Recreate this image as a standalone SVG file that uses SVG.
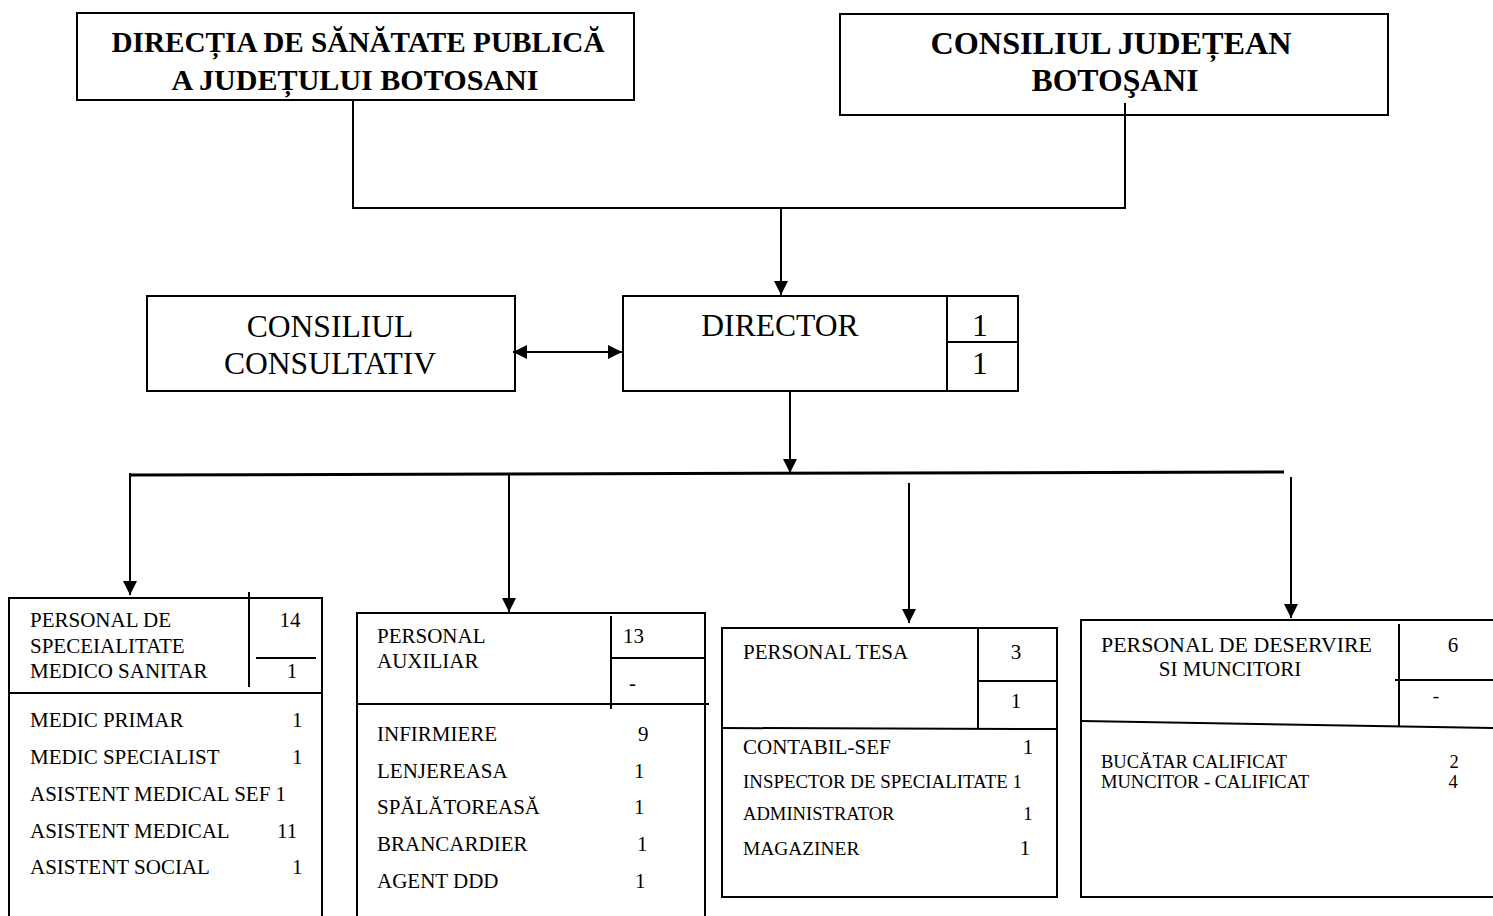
<svg xmlns="http://www.w3.org/2000/svg" width="1493" height="916" viewBox="0 0 1493 916" xml:space="preserve">
<style>
.box{fill:#fff;stroke:#000;stroke-width:2}
.ln{stroke:#000;stroke-width:2;fill:none}
.t{font-family:"Liberation Serif","Times New Roman",serif;fill:#000}
.tb{font-family:"Liberation Serif","Times New Roman",serif;font-weight:bold;fill:#000}
.c{text-anchor:middle}
</style>
<defs>
<marker id="ah" viewBox="0 0 10 10" refX="10" refY="5" markerWidth="15" markerHeight="14" markerUnits="userSpaceOnUse" orient="auto-start-reverse">
<path d="M0,0 L10,5 L0,10 z" fill="#000"/>
</marker>
</defs>
<rect width="1493" height="916" fill="#fff"/>

<g id="dsp">
<rect class="box" x="77" y="13" width="557" height="87"/>
<text class="tb c" x="358" y="52" font-size="29" textLength="493" lengthAdjust="spacingAndGlyphs">DIRECȚIA DE SĂNĂTATE  PUBLICĂ</text>
<text class="tb c" x="355" y="90" font-size="29" textLength="367" lengthAdjust="spacingAndGlyphs">A JUDEȚULUI  BOTOSANI</text>
</g>

<g id="cj">
<rect class="box" x="840" y="14" width="548" height="101"/>
<text class="tb c" x="1111" y="54" font-size="31" textLength="361" lengthAdjust="spacingAndGlyphs">CONSILIUL JUDEȚEAN</text>
<text class="tb c" x="1115" y="91" font-size="31" textLength="167" lengthAdjust="spacingAndGlyphs">BOTOŞANI</text>
</g>

<g id="consultativ">
<rect class="box" x="147" y="296" width="368" height="95"/>
<text class="t c" x="330" y="337" font-size="31.6">CONSILIUL</text>
<text class="t c" x="330" y="374" font-size="31.6">CONSULTATIV</text>
</g>

<g id="director">
<rect class="box" x="623" y="296" width="395" height="95"/>
<line class="ln" x1="947" y1="296" x2="947" y2="391"/>
<line class="ln" x1="947" y1="342" x2="1018" y2="342"/>
<text class="t c" x="780" y="336" font-size="31.6">DIRECTOR</text>
<text class="t c" x="980" y="336" font-size="31.6">1</text>
<text class="t c" x="980" y="374" font-size="31.6">1</text>
</g>

<g id="medical">
<rect class="box" x="9" y="598" width="313" height="330"/>
<line class="ln" x1="249" y1="592" x2="249" y2="687"/>
<line class="ln" x1="256" y1="658" x2="316" y2="658"/>
<line class="ln" x1="9" y1="693" x2="322" y2="693"/>
<g class="t" font-size="21">
<text x="30" y="627">PERSONAL DE</text>
<text x="30" y="653">SPECEIALITATE</text>
<text x="30" y="678">MEDICO SANITAR</text>
<text class="c" x="290" y="627">14</text>
<text class="c" x="292" y="678">1</text>
<text x="30" y="727">MEDIC PRIMAR</text><text x="292" y="727">1</text>
<text x="30" y="764">MEDIC SPECIALIST</text><text x="292" y="764">1</text>
<text x="30" y="801">ASISTENT MEDICAL SEF 1</text>
<text x="30" y="838">ASISTENT MEDICAL</text><text x="277" y="838">11</text>
<text x="30" y="874">ASISTENT SOCIAL</text><text x="292" y="874">1</text>
</g>
</g>

<g id="auxiliar">
<rect class="box" x="357" y="613" width="348" height="315"/>
<line class="ln" x1="611" y1="616" x2="611" y2="709"/>
<line class="ln" x1="611" y1="658" x2="705" y2="658"/>
<line class="ln" x1="357" y1="704" x2="709" y2="704"/>
<g class="t" font-size="21">
<text x="377" y="643">PERSONAL</text>
<text x="377" y="668">AUXILIAR</text>
<text x="623" y="643">13</text>
<text x="629" y="690">-</text>
<text x="377" y="741">INFIRMIERE</text><text x="638" y="741">9</text>
<text x="377" y="778">LENJEREASA</text><text x="634" y="778">1</text>
<text x="377" y="814">SPĂLĂTOREASĂ</text><text x="634" y="814">1</text>
<text x="377" y="851">BRANCARDIER</text><text x="637" y="851">1</text>
<text x="377" y="888">AGENT DDD</text><text x="635" y="888">1</text>
</g>
</g>

<g id="tesa">
<rect class="box" x="722" y="628" width="335" height="269"/>
<line class="ln" x1="978" y1="628" x2="978" y2="729"/>
<line class="ln" x1="978" y1="681" x2="1057" y2="681"/>
<line class="ln" x1="721" y1="728" x2="1056" y2="729"/>
<g class="t">
<text x="743" y="659" font-size="21">PERSONAL TESA</text>
<text class="c" x="1016" y="659" font-size="21">3</text>
<text class="c" x="1016" y="708" font-size="21">1</text>
<text x="743" y="754" font-size="21">CONTABIL-SEF</text><text class="c" x="1028" y="754" font-size="21">1</text>
<text x="743" y="788" font-size="18.9">INSPECTOR DE  SPECIALITATE 1</text>
<text x="743" y="820" font-size="18.6">ADMINISTRATOR</text><text class="c" x="1028" y="820" font-size="18.6">1</text>
<text x="743" y="855" font-size="19.4">MAGAZINER</text><text class="c" x="1025" y="855" font-size="21">1</text>
</g>
</g>

<g id="deservire">
<rect class="box" x="1081" y="620" width="440" height="277"/>
<line class="ln" x1="1399" y1="624" x2="1399" y2="727"/>
<line class="ln" x1="1395" y1="680" x2="1493" y2="680"/>
<line class="ln" x1="1082" y1="721" x2="1493" y2="728"/>
<g class="t">
<text x="1101" y="652" font-size="21" textLength="271" lengthAdjust="spacingAndGlyphs">PERSONAL DE  DESERVIRE</text>
<text class="c" x="1230" y="676" font-size="21">SI  MUNCITORI</text>
<text class="c" x="1453" y="652" font-size="21">6</text>
<text class="c" x="1436" y="702" font-size="19">-</text>
<text x="1101" y="768" font-size="18.5">BUCĂTAR CALIFICAT</text><text class="c" x="1454" y="768" font-size="18.5">2</text>
<text x="1101" y="788" font-size="18.5">MUNCITOR - CALIFICAT</text><text class="c" x="1453" y="788" font-size="18.5">4</text>
</g>
</g>

<g id="connectors">
<polyline class="ln" points="353,100 353,208 1125,208 1125,103"/>
<line class="ln" x1="781" y1="208" x2="781" y2="295" marker-end="url(#ah)"/>
<line class="ln" x1="513" y1="352" x2="622" y2="352" marker-start="url(#ah)" marker-end="url(#ah)"/>
<line class="ln" x1="790" y1="391" x2="790" y2="473" marker-end="url(#ah)"/>
<line class="ln" x1="130" y1="475" x2="1284" y2="472" style="stroke-width:3"/>
<line class="ln" x1="130" y1="473" x2="130" y2="595" marker-end="url(#ah)"/>
<line class="ln" x1="509" y1="474" x2="509" y2="612" marker-end="url(#ah)"/>
<line class="ln" x1="909" y1="483" x2="909" y2="623" marker-end="url(#ah)"/>
<line class="ln" x1="1291" y1="477" x2="1291" y2="618" marker-end="url(#ah)"/>
</g>
</svg>
